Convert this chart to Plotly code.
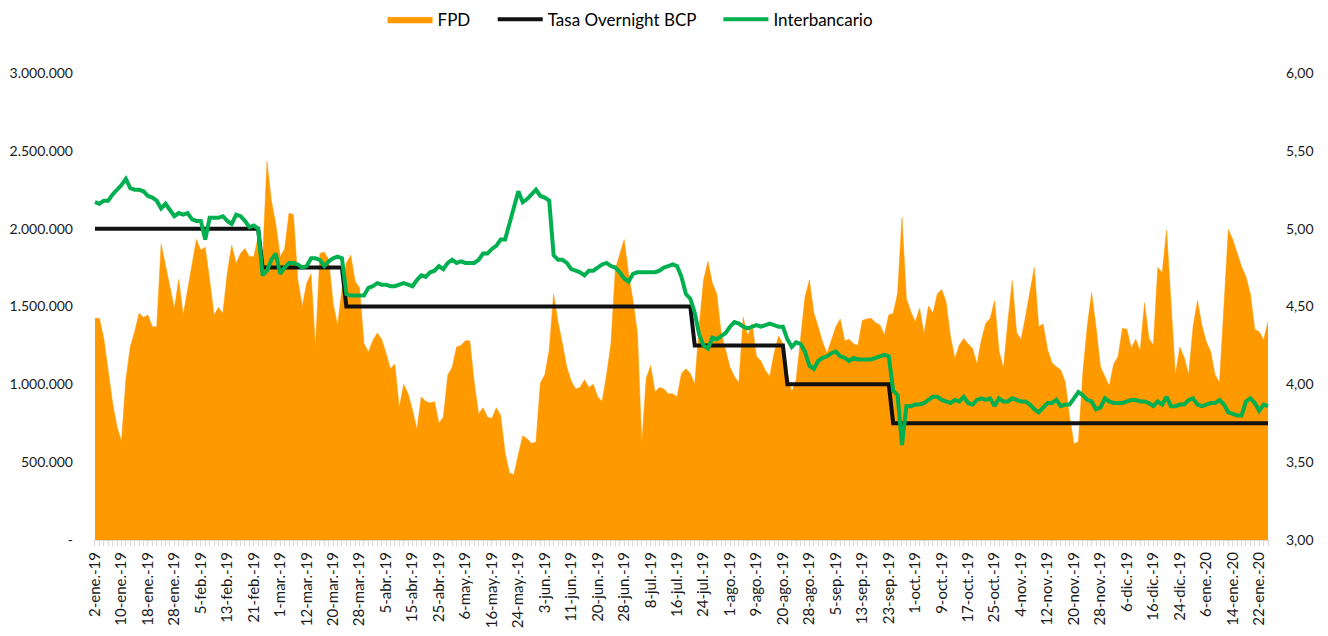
import plotly.graph_objects as go

# FPD (eje izquierdo), una cifra por día hábil desde 2-ene-19
fpd = [
    1424000, 1424000, 1295000, 1092000, 878000, 728000, 632000, 1028000, 1242000, 1338000,
    1456000, 1430000, 1445000, 1370000, 1370000, 1901000, 1756000, 1627000, 1488000, 1674000,
    1445000, 1606000, 1756000, 1931000, 1863000, 1880000, 1670000, 1445000, 1494000, 1456000,
    1713000, 1895000, 1777000, 1841000, 1873000, 1820000, 1820000, 1948000, 1800000, 2430000,
    2180000, 2030000, 1820000, 1870000, 2100000, 2090000, 1670000, 1500000, 1650000, 1710000,
    1240000, 1840000, 1850000, 1800000, 1520000, 1380000, 1610000, 1780000, 1830000, 1660000,
    1620000, 1260000, 1210000, 1280000, 1330000, 1290000, 1200000, 1100000, 1130000, 850000,
    1000000, 940000, 835000, 710000, 920000, 890000, 880000, 890000, 750000, 790000,
    1060000, 1110000, 1240000, 1250000, 1280000, 1280000, 1010000, 810000, 850000, 790000,
    780000, 850000, 800000, 560000, 430000, 420000, 550000, 670000, 650000, 620000,
    630000, 1010000, 1060000, 1220000, 1580000, 1400000, 1260000, 1110000, 1020000, 970000,
    980000, 1030000, 980000, 1000000, 920000, 890000, 1060000, 1260000, 1740000, 1830000,
    1930000, 1710000, 1540000, 1330000, 620000, 1040000, 1120000, 950000, 980000, 970000,
    940000, 940000, 920000, 1070000, 1100000, 1070000, 1000000, 1370000, 1670000, 1790000,
    1650000, 1580000, 1330000, 1220000, 1110000, 1050000, 1010000, 1430000, 1310000, 1390000,
    1180000, 1150000, 1090000, 1050000, 1200000, 1310000, 1260000, 1070000, 950000, 1030000,
    1280000, 1560000, 1670000, 1460000, 1370000, 1270000, 1200000, 1280000, 1370000, 1420000,
    1280000, 1290000, 1260000, 1250000, 1410000, 1420000, 1424000, 1396000, 1381000, 1317000,
    1445000, 1456000, 1584000, 2072000, 1552000, 1467000, 1402000, 1488000, 1323000, 1503000,
    1456000, 1580000, 1610000, 1531000, 1306000, 1167000, 1252000, 1295000, 1259000, 1231000,
    1130000, 1285000, 1392000, 1424000, 1537000, 1216000, 1103000, 1402000, 1666000, 1332000,
    1289000, 1434000, 1595000, 1751000, 1370000, 1387000, 1225000, 1139000, 1113000, 1092000,
    1017000, 792000, 617000, 632000, 1071000, 1370000, 1589000, 1370000, 1113000, 1045000,
    989000, 1130000, 1178000, 1360000, 1353000, 1231000, 1289000, 1216000, 1524000, 1295000,
    1252000, 1751000, 1717000, 1991000, 1542000, 1060000, 1238000, 1173000, 1060000, 1370000,
    1537000, 1381000, 1274000, 1210000, 1060000, 1011000, 1499000, 1995000, 1931000, 1841000,
    1756000, 1691000, 1580000, 1353000, 1338000, 1285000, 1402000,
]

# Tasa Overnight BCP (eje derecho)
overnight = [5.00] * 38 + [4.75] * 19 + [4.50] * 79 + [4.25] * 21 + [4.00] * 24 + [3.75] * 86

# Tasa interbancaria (eje derecho)
interbancario = [
    5.17, 5.16, 5.18, 5.18, 5.22, 5.25, 5.28, 5.32, 5.26, 5.25,
    5.25, 5.24, 5.21, 5.20, 5.18, 5.13, 5.16, 5.12, 5.08, 5.10,
    5.09, 5.10, 5.06, 5.05, 5.05, 4.93, 5.07, 5.07, 5.07, 5.08,
    5.05, 5.03, 5.09, 5.08, 5.05, 5.01, 5.02, 5.00, 4.70, 4.73,
    4.80, 4.84, 4.71, 4.75, 4.78, 4.78, 4.77, 4.75, 4.76, 4.81,
    4.81, 4.80, 4.76, 4.79, 4.81, 4.82, 4.81, 4.58, 4.57, 4.57,
    4.57, 4.57, 4.62, 4.63, 4.65, 4.64, 4.64, 4.63, 4.63, 4.64,
    4.65, 4.64, 4.63, 4.67, 4.70, 4.69, 4.72, 4.73, 4.76, 4.74,
    4.78, 4.80, 4.78, 4.79, 4.78, 4.78, 4.78, 4.80, 4.84, 4.84,
    4.87, 4.89, 4.93, 4.93, 5.03, 5.13, 5.24, 5.17, 5.19, 5.22,
    5.25, 5.21, 5.20, 5.18, 4.83, 4.80, 4.80, 4.78, 4.74, 4.73,
    4.72, 4.70, 4.73, 4.73, 4.75, 4.77, 4.78, 4.76, 4.75, 4.72,
    4.68, 4.66, 4.71, 4.72, 4.72, 4.72, 4.72, 4.72, 4.73, 4.75,
    4.76, 4.77, 4.76, 4.69, 4.58, 4.55, 4.46, 4.32, 4.25, 4.23,
    4.30, 4.29, 4.31, 4.33, 4.37, 4.40, 4.39, 4.37, 4.36, 4.37,
    4.38, 4.37, 4.38, 4.39, 4.38, 4.37, 4.37, 4.29, 4.24, 4.27,
    4.26, 4.21, 4.12, 4.10, 4.15, 4.17, 4.18, 4.20, 4.21, 4.18,
    4.17, 4.15, 4.17, 4.16, 4.16, 4.16, 4.16, 4.17, 4.18, 4.19,
    4.18, 3.96, 3.93, 3.61, 3.86, 3.86, 3.87, 3.87, 3.88, 3.90,
    3.92, 3.92, 3.90, 3.89, 3.88, 3.90, 3.89, 3.92, 3.88, 3.87,
    3.90, 3.91, 3.90, 3.91, 3.86, 3.91, 3.89, 3.89, 3.91, 3.90,
    3.89, 3.89, 3.87, 3.84, 3.82, 3.85, 3.88, 3.88, 3.90, 3.86,
    3.87, 3.87, 3.91, 3.95, 3.93, 3.90, 3.89, 3.84, 3.85, 3.91,
    3.89, 3.88, 3.88, 3.88, 3.89, 3.90, 3.90, 3.89, 3.89, 3.88,
    3.86, 3.89, 3.87, 3.92, 3.86, 3.86, 3.87, 3.87, 3.90, 3.91,
    3.87, 3.86, 3.87, 3.88, 3.88, 3.90, 3.87, 3.82, 3.81, 3.80,
    3.80, 3.89, 3.91, 3.88, 3.83, 3.87, 3.86,
]

# etiquetas del eje x (una cada 6 días hábiles)
fechas = [
    "2-ene.-19", "10-ene.-19", "18-ene.-19", "28-ene.-19", "5-feb.-19", "13-feb.-19",
    "21-feb.-19", "1-mar.-19", "12-mar.-19", "20-mar.-19", "28-mar.-19", "5-abr.-19",
    "15-abr.-19", "25-abr.-19", "6-may.-19", "16-may.-19", "24-may.-19", "3-jun.-19",
    "11-jun.-19", "20-jun.-19", "28-jun.-19", "8-jul.-19", "16-jul.-19", "24-jul.-19",
    "1-ago.-19", "9-ago.-19", "20-ago.-19", "28-ago.-19", "5-sep.-19", "13-sep.-19",
    "23-sep.-19", "1-oct.-19", "9-oct.-19", "17-oct.-19", "25-oct.-19", "4-nov.-19",
    "12-nov.-19", "20-nov.-19", "28-nov.-19", "6-dic.-19", "16-dic.-19", "24-dic.-19",
    "6-ene.-20", "14-ene.-20", "22-ene.-20",
]

y_left_vals = [0, 500000, 1000000, 1500000, 2000000, 2500000, 3000000]
y_left_text = ["-", "500.000", "1.000.000", "1.500.000", "2.000.000", "2.500.000", "3.000.000"]
y_right_vals = [3.0, 3.5, 4.0, 4.5, 5.0, 5.5, 6.0]
y_right_text = ["3,00", "3,50", "4,00", "4,50", "5,00", "5,50", "6,00"]

x = list(range(len(fpd)))
font = "Lato"
pad = "\u00a0" * 4  # espacio extra entre entradas de la leyenda

fig = go.Figure()
fig.add_trace(go.Scatter(x=x, y=fpd, name="FPD" + pad, mode="lines", fill="tozeroy",
                         line=dict(color="#FF9900", width=0.5), fillcolor="#FF9900"))
fig.add_trace(go.Scatter(x=x, y=overnight, name="Tasa Overnight BCP" + pad, mode="lines", yaxis="y2",
                         line=dict(color="#111111", width=4)))
fig.add_trace(go.Scatter(x=x, y=interbancario, name="Interbancario", mode="lines", yaxis="y2",
                         line=dict(color="#00B050", width=4)))

# la página deja 8px de margen alrededor del gráfico
fig.update_layout(
    width=1312, height=620,
    autosize=False,
    margin=dict(l=85, r=50, t=65, b=88),
    paper_bgcolor="white",
    plot_bgcolor="white",
    font=dict(family=font, size=14, color="#1a1a1a"),
    showlegend=True,
    legend=dict(orientation="h", xref="container", yref="container",
                x=0.4745, xanchor="center", y=0.981, yanchor="middle",
                font=dict(size=17, color="#000000"), itemwidth=45, traceorder="normal"),
    xaxis=dict(
        range=[-0.45, len(fpd) - 0.55],
        tickmode="array",
        tickvals=list(range(0, len(fpd), 6)),
        ticktext=fechas,
        tickangle=-90,
        tickfont=dict(size=15),
        ticks="outside", ticklen=5, tickcolor="#d9d9d9",
        minor=dict(ticks="outside", tickmode="linear", tick0=0, dtick=1, ticklen=5, tickcolor="#d9d9d9"),
        showline=True, linecolor="#d9d9d9", linewidth=1,
        showgrid=False, zeroline=False, automargin=False,
    ),
    yaxis=dict(
        range=[0, 3000000],
        tickmode="array", tickvals=y_left_vals, ticktext=y_left_text,
        showgrid=False, zeroline=False, showline=False,
        ticklabelstandoff=19, automargin=False,
    ),
    yaxis2=dict(
        range=[3, 6], overlaying="y", side="right",
        tickmode="array", tickvals=y_right_vals, ticktext=y_right_text,
        showgrid=False, zeroline=False, showline=False,
        ticklabelstandoff=15, automargin=False,
    ),
)

fig.write_html("out.html")
